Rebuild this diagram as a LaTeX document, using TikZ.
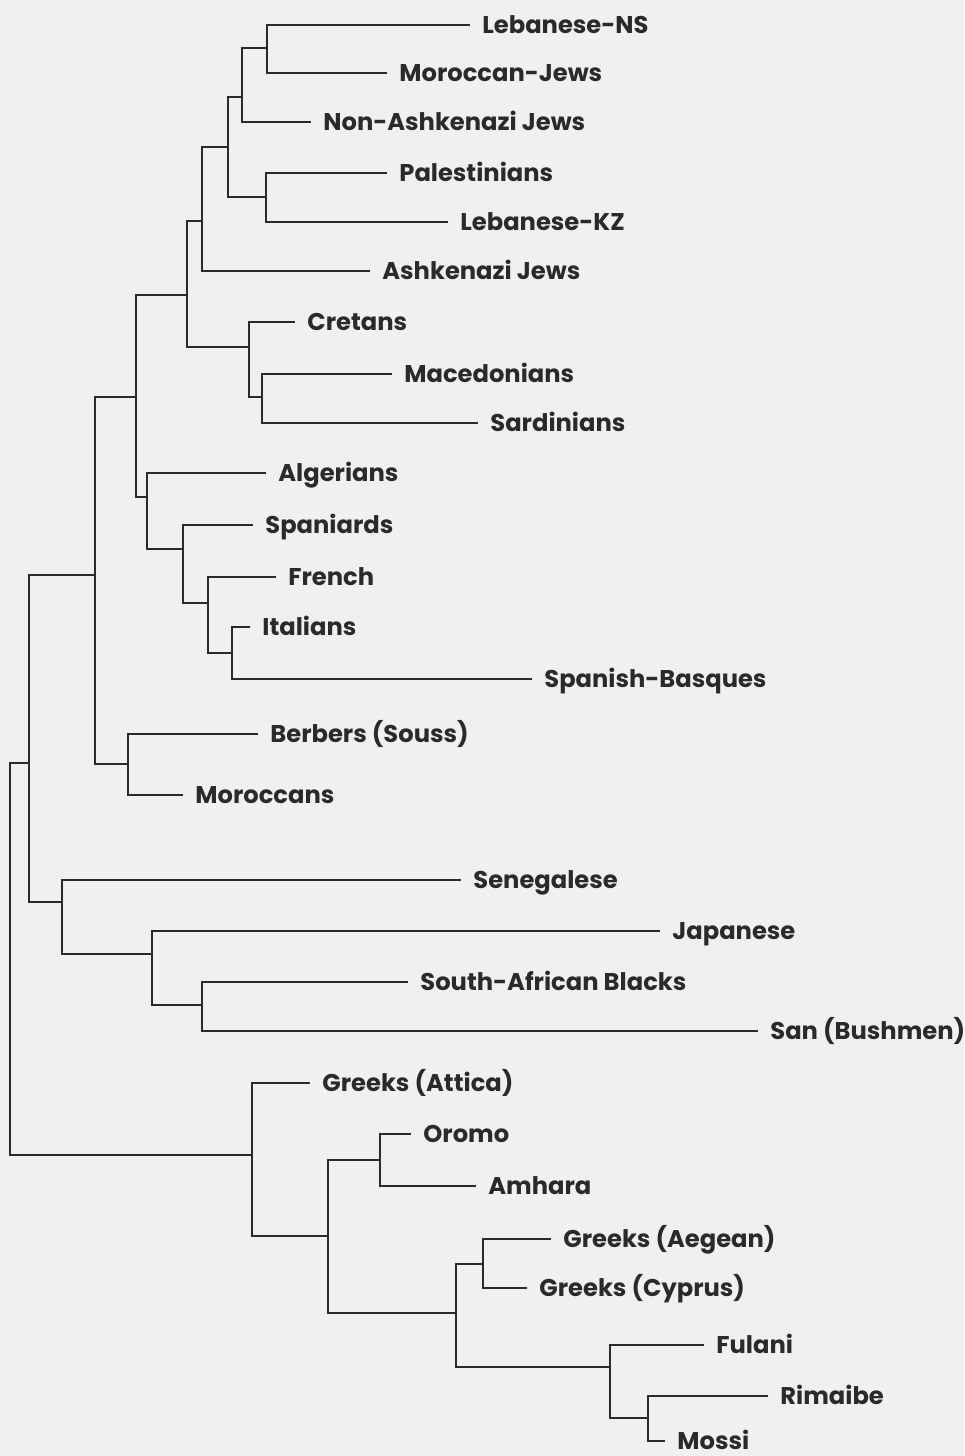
\documentclass[tikz,border=0pt]{standalone}
\usepackage{fontspec}
\setmainfont{Poppins}
\definecolor{bgc}{HTML}{F0F0F0}
\definecolor{inkc}{HTML}{2A2A2A}
\begin{document}
\begin{tikzpicture}[x=0.5pt,y=-0.5pt,
  branch/.style={draw=inkc,line width=1.35pt,line cap=rect},
  twig/.style={branch,shorten >=6.5pt},
  leaf/.style={anchor=west,inner xsep=0pt,inner ysep=0pt,text=inkc,
     font=\fontsize{12.1}{14}\selectfont\bfseries,text height=8.5pt,text depth=0pt}]
\fill[bgc] (0,0) rectangle (964,1456);
\useasboundingbox (0,0) rectangle (964,1456);
% internal junctions
\coordinate (A) at (267,48);
\coordinate (B) at (242,97);
\coordinate (C) at (266,197);
\coordinate (D) at (228,147);
\coordinate (E) at (202,221);
\coordinate (F) at (262,397);
\coordinate (G) at (249,347);
\coordinate (H) at (187,295);
\coordinate (J) at (232,653);
\coordinate (K) at (208,603);
\coordinate (L) at (183,549);
\coordinate (M) at (147,497);
\coordinate (N) at (136,397);
\coordinate (O) at (128,764);
\coordinate (P) at (95,575);
\coordinate (Q) at (202,1005);
\coordinate (R) at (152,954);
\coordinate (S) at (62,902);
\coordinate (T) at (29,763);
\coordinate (U) at (380,1160);
\coordinate (V) at (483,1264);
\coordinate (W) at (648,1418);
\coordinate (X) at (610,1367);
\coordinate (Y) at (456,1313);
\coordinate (Z) at (328,1236);
\coordinate (AA) at (252,1155);
\coordinate (root) at (10,959);
% leaves
\node[leaf] (lebns) at (482,25) {Lebanese-NS};
\node[leaf] (morjews) at (399,73) {Moroccan-Jews};
\node[leaf] (nonash) at (323,122) {Non-Ashkenazi Jews};
\node[leaf] (pal) at (399,173) {Palestinians};
\node[leaf] (lebkz) at (460,222) {Lebanese-KZ};
\node[leaf] (ash) at (382,271) {Ashkenazi Jews};
\node[leaf] (cret) at (307,322) {Cretans};
\node[leaf] (mac) at (404,374) {Macedonians};
\node[leaf] (sard) at (490,423) {Sardinians};
\node[leaf] (alg) at (278,473) {Algerians};
\node[leaf] (span) at (265,525) {Spaniards};
\node[leaf] (french) at (288,577) {French};
\node[leaf] (ital) at (262,627) {Italians};
\node[leaf] (spb) at (544,679) {Spanish-Basques};
\node[leaf] (berb) at (270,734) {Berbers (Souss)};
\node[leaf] (moroc) at (195,795) {Moroccans};
\node[leaf] (sen) at (473,880) {Senegalese};
\node[leaf] (jap) at (672,931) {Japanese};
\node[leaf] (sab) at (420,982) {South-African Blacks};
\node[leaf] (san) at (770,1031) {San (Bushmen)};
\node[leaf] (att) at (322,1083) {Greeks (Attica)};
\node[leaf] (oro) at (423,1134) {Oromo};
\node[leaf] (amh) at (488,1186) {Amhara};
\node[leaf] (aeg) at (563,1239) {Greeks (Aegean)};
\node[leaf] (cyp) at (539,1288) {Greeks (Cyprus)};
\node[leaf] (ful) at (716,1345) {Fulani};
\node[leaf] (rim) at (780,1396) {Rimaibe};
\node[leaf] (mossi) at (677,1441) {Mossi};
% connectors to leaves
\draw[twig] (A) |- (lebns.west);
\draw[twig] (A) |- (morjews.west);
\draw[twig] (B) |- (nonash.west);
\draw[twig] (C) |- (pal.west);
\draw[twig] (C) |- (lebkz.west);
\draw[twig] (E) |- (ash.west);
\draw[twig] (F) |- (mac.west);
\draw[twig] (F) |- (sard.west);
\draw[twig] (G) |- (cret.west);
\draw[twig] (J) |- (ital.west);
\draw[twig] (J) |- (spb.west);
\draw[twig] (K) |- (french.west);
\draw[twig] (L) |- (span.west);
\draw[twig] (M) |- (alg.west);
\draw[twig] (O) |- (berb.west);
\draw[twig] (O) |- (moroc.west);
\draw[twig] (Q) |- (sab.west);
\draw[twig] (Q) |- (san.west);
\draw[twig] (R) |- (jap.west);
\draw[twig] (S) |- (sen.west);
\draw[twig] (U) |- (oro.west);
\draw[twig] (U) |- (amh.west);
\draw[twig] (V) |- (aeg.west);
\draw[twig] (V) |- (cyp.west);
\draw[twig] (W) |- (rim.west);
\draw[twig] (W) |- (mossi.west);
\draw[twig] (X) |- (ful.west);
\draw[twig] (AA) |- (att.west);
% connectors between internal nodes
\draw[branch] (B) |- (A);
\draw[branch] (D) |- (B) (D) |- (C);
\draw[branch] (E) |- (D);
\draw[branch] (G) |- (F);
\draw[branch] (H) |- (E) (H) |- (G);
\draw[branch] (K) |- (J);
\draw[branch] (L) |- (K);
\draw[branch] (M) |- (L);
\draw[branch] (N) |- (H) (N) |- (M);
\draw[branch] (P) |- (N) (P) |- (O);
\draw[branch] (R) |- (Q);
\draw[branch] (S) |- (R);
\draw[branch] (T) |- (P) (T) |- (S);
\draw[branch] (X) |- (W);
\draw[branch] (Y) |- (V) (Y) |- (X);
\draw[branch] (Z) |- (U) (Z) |- (Y);
\draw[branch] (AA) |- (Z);
\draw[branch] (root) |- (T) (root) |- (AA);
\end{tikzpicture}
\end{document}
